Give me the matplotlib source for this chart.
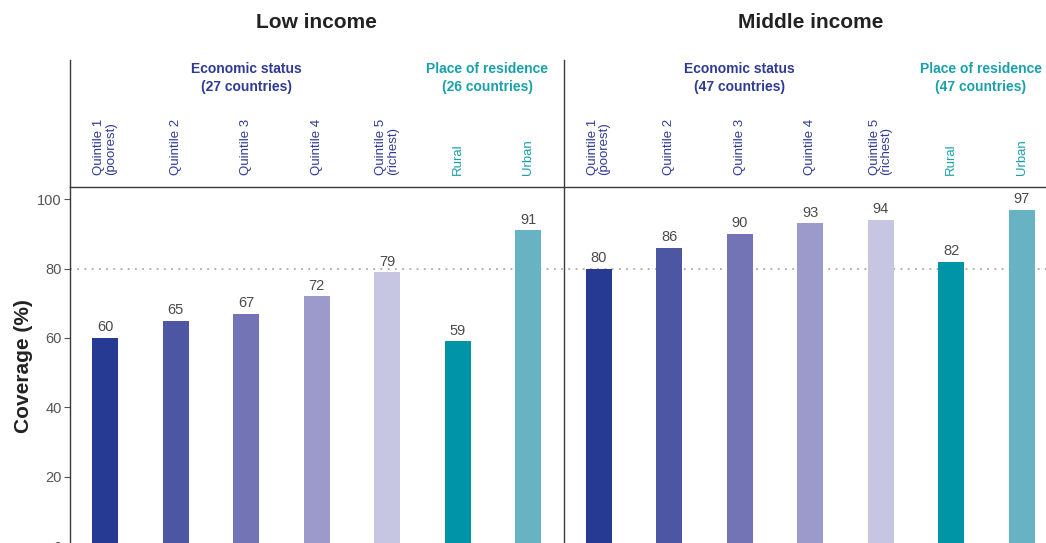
import matplotlib.pyplot as plt
import numpy as np

# data
categories = ['Quintile 1\n(poorest)', 'Quintile 2', 'Quintile 3', 'Quintile 4',
              'Quintile 5\n(richest)', 'Rural', 'Urban']
low_income = [60, 65, 67, 72, 79, 59, 91]
middle_income = [80, 86, 90, 93, 94, 82, 97]
panel_titles = ['Low income', 'Middle income']
econ_labels = ['Economic status\n(27 countries)', 'Economic status\n(47 countries)']
place_labels = ['Place of residence\n(26 countries)', 'Place of residence\n(47 countries)']
yticks = [0, 20, 40, 60, 80, 100]

bar_colors = ['#263993', '#4c56a3', '#7274b5', '#9b9acb', '#c6c6e3', '#0095a6', '#68b3c3']
label_colors = ['#2e3a96'] * 5 + ['#19a0ab'] * 2
econ_col = '#2e3a96'
place_col = '#19a0ab'
line_col = '#3a3a3a'

plt.rcParams['font.family'] = ['Liberation Sans', 'DejaVu Sans']

W, H = 1046, 543
fig = plt.figure(figsize=(W / 100, H / 100), dpi=100)

# main axes (extends a little past the bottom and right edges like the original crop)
x_left, x_right = 70, 1057
y_top, y_zero = 187, 546
ax = fig.add_axes([x_left / W, (H - y_zero) / H, (x_right - x_left) / W, (y_zero - y_top) / H])

values = low_income + middle_income
x = np.arange(len(values))
colors = bar_colors * 2
ax.bar(x, values, width=0.37, color=colors, zorder=2)
for xi, v in zip(x, values):
    ax.text(xi, v + 1.0, f'{v}', ha='center', va='bottom', fontsize=10.5,
            color='#4a4a4a', zorder=3)

ax.axhline(80, color='#aaaaaa', linestyle=(0, (1, 3)), linewidth=1.3, zorder=1)

ax.set_xlim(-0.5, 13.5)
ax.set_ylim(0, 103.5)
ax.set_xticks([])
ax.set_yticks(yticks)
ax.tick_params(axis='y', labelsize=10.5, colors='#555555', length=4, width=0.8, pad=2)
ax.spines[['right', 'bottom']].set_visible(False)
ax.spines['left'].set_color(line_col)
ax.spines['top'].set_color(line_col)
ax.spines['left'].set_linewidth(1.0)
ax.spines['top'].set_linewidth(1.0)
ax.set_ylabel('Coverage (%)', fontsize=15, fontweight='bold', color='#222222', labelpad=3)

# divider between panels
ax.axvline(6.5, color=line_col, linewidth=1.0, zorder=3)

# header area (figure pixel coords)
def fx(px):
    return px / W

def fy(py):
    return 1 - py / H

ax_to_px = lambda xv: x_left + (xv + 0.5) * (x_right - x_left) / 14

# vertical lines in header
for xv in [-0.5, 6.5]:
    fig.add_artist(plt.Line2D([fx(ax_to_px(xv))] * 2, [fy(60), fy(y_top)],
                              color=line_col, linewidth=1.0))

for p in range(2):
    start = p * 7
    centre = ax_to_px(start + 3)
    fig.text(fx(centre), fy(22), panel_titles[p], ha='center', va='center',
             fontsize=15, fontweight='bold', color='#222222')
    fig.text(fx(ax_to_px(start + 2)), fy(78), econ_labels[p], ha='center', va='center',
             fontsize=10, fontweight='bold', color=econ_col, linespacing=1.3)
    fig.text(fx(ax_to_px(start + 5.45) - 2), fy(78), place_labels[p], ha='center', va='center',
             fontsize=10, fontweight='bold', color=place_col, linespacing=1.3)
    for i, cat in enumerate(categories):
        fig.text(fx(ax_to_px(start + i)), fy(175), cat, rotation=90, ha='center', va='bottom',
                 fontsize=9.5, color=label_colors[i], linespacing=0.95,
                 multialignment='left')

fig.savefig('out.png', dpi=100)
